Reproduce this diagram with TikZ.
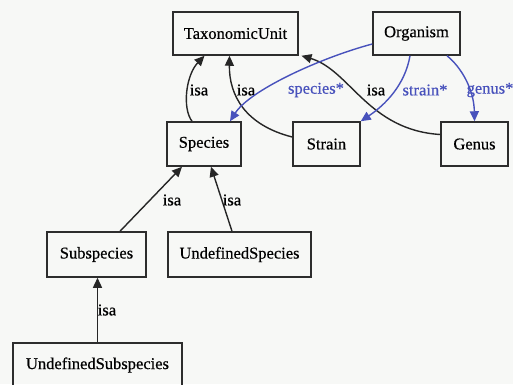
\documentclass[tikz,border=0pt]{standalone}
\usepackage{fontspec}
\setmainfont{Liberation Serif}[FakeBold=0.5]
\usetikzlibrary{arrows.meta}
\definecolor{bg}{RGB}{247,248,246}
\definecolor{edgeblue}{RGB}{72,82,188}
\definecolor{boxline}{RGB}{45,45,45}
\begin{document}
\begin{tikzpicture}[x=1pt,y=-1pt,
  box/.style={draw=boxline,line width=1.5pt,fill=none,inner sep=0pt,font=\fontsize{16.5}{18}\selectfont,text=black},
  isaedge/.style={draw=black!85,line width=1.4pt,-{Triangle[length=10pt,width=9pt]}},
  relate/.style={draw=edgeblue,line width=1.4pt,-{Triangle[length=10pt,width=9pt]}},
  lbl/.style={font=\fontsize{16.5}{18}\selectfont,text=black,inner sep=0pt},
  bluelbl/.style={font=\fontsize{16.5}{18}\selectfont,text=edgeblue,inner sep=0pt}]
\useasboundingbox (0,0) rectangle (513,384);
\clip (0,0) rectangle (513,384);
\fill[bg] (0,0) rectangle (513,384);

\node[box,minimum width=125pt,minimum height=43pt] (tu) at (235.5,33.5) {TaxonomicUnit};
\node[box,minimum width=87pt,minimum height=43pt] (org) at (416.5,33.5) {Organism};
\node[box,minimum width=74pt,minimum height=44pt] (sp) at (204,144) {Species};
\node[box,minimum width=67pt,minimum height=44pt] (st) at (326.5,144) {Strain};
\node[box,minimum width=67pt,minimum height=44pt] (ge) at (474.5,144) {Genus};
\node[box,minimum width=99pt,minimum height=45pt] (ssp) at (96.5,254.5) {Subspecies};
\node[box,minimum width=143pt,minimum height=45pt] (usp) at (239.5,254.5) {UndefinedSpecies};
\node[box,minimum width=169pt,minimum height=44pt] (ussp) at (97.5,365) {UndefinedSubspecies};

% isa edges
\draw[isaedge] ([xshift=-12pt]sp.north) .. controls (182,108) and (186,75) .. ([xshift=-31pt]tu.south);
\node[lbl] (l1) at (199,90) {isa};
\draw[isaedge] ([yshift=7pt]st.west) .. controls (245,125) and (229,95) .. ([xshift=-6pt]tu.south);
\node[lbl] (l2) at (246,90) {isa};
\draw[isaedge] ([yshift=9.5pt]ge.west) .. controls (368,130) and (350,70) .. ([xshift=66pt]tu.south);
\node[lbl] (l3) at (376,90) {isa};

% relation edges
\draw[relate] ([yshift=-10.5pt]org.west) .. controls (320,58) and (250,90) .. ([xshift=26pt]sp.north);
\node[bluelbl] (l4) at (316,90) {species*};
\draw[relate] ([xshift=-6.5pt]org.south) .. controls (405,85) and (385,105) .. (st.north east);
\node[bluelbl] (l5) at (425,90) {strain*};
\draw[relate] ([xshift=30.5pt]org.south) .. controls (462,68) and (474,90) .. (ge.north);
\node[bluelbl] (l6) at (490,90) {genus*};

% lower isa edges
\draw[isaedge] ([xshift=23.5pt]ssp.north) -- ([xshift=-22pt]sp.south);
\node[lbl] (l7) at (172,200) {isa};
\draw[isaedge] ([xshift=-7.5pt]usp.north) -- ([xshift=7pt]sp.south);
\node[lbl] (l8) at (232,200) {isa};
\draw[isaedge] (ussp.north) -- (ussp.north |- ssp.south);
\node[lbl] (l9) at (107,310) {isa};
\end{tikzpicture}
\end{document}
